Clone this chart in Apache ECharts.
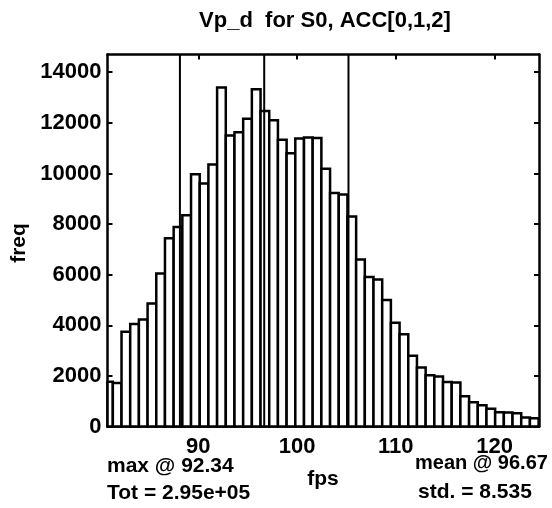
<!DOCTYPE html>
<html>
<head>
<meta charset="utf-8">
<script src="https://cdn.jsdelivr.net/npm/echarts@6/dist/echarts.min.js"></script>
<style>
html,body{margin:0;padding:0;background:#fff;}
#c{width:552px;height:508px;}
</style>
</head>
<body>
<div id="c"></div>
<script>
// ---- data ----
const binCenters = [80.90, 81.78, 82.66, 83.54, 84.42, 85.30, 86.18, 87.06, 87.94, 88.82,
                    89.70, 90.58, 91.46, 92.34, 93.22, 94.10, 94.98, 95.86, 96.74, 97.62,
                    98.50, 99.38, 100.26, 101.14, 102.02, 102.90, 103.78, 104.66, 105.54, 106.42,
                    107.30, 108.18, 109.06, 109.94, 110.82, 111.70, 112.58, 113.46, 114.34, 115.22,
                    116.10, 116.98, 117.86, 118.74, 119.62, 120.50, 121.38, 122.26, 123.14, 124.02];
const binCounts  = [1770, 1720, 3740, 4050, 4230, 4860, 6045, 7440, 7880, 8350,
                    9970, 9600, 10350, 13400, 11500, 11630, 12160, 13330, 12470, 12100,
                    11334, 10800, 11380, 11420, 11400, 10190, 9227, 9170, 8300, 6600,
                    5910, 5810, 5000, 4100, 3650, 2800, 2336, 2030, 1980, 1760,
                    1740, 1200, 960, 840, 700, 560, 550, 520, 360, 330];
const binWidth = 0.88;
const meanVal = 96.67;
const stdVal = 8.535;
const refLines = [88.135, 96.67, 105.205];   // mean - std, mean, mean + std
const xTicks = [90, 100, 110, 120];
const yTicks = [0, 2000, 4000, 6000, 8000, 10000, 12000, 14000];
const xRange = [80.8, 124.5];
const yRange = [0, 14700];
const titleText = 'Vp_d  for S0, ACC[0,1,2]';
const xName = 'fps';
const yName = 'freq';
const noteMax = 'max @ 92.34';
const noteTot = 'Tot = 2.95e+05';
const noteMean = 'mean @ 96.67';
const noteStd = 'std. = 8.535';

// ---- chart ----
const FONT = 'Liberation Sans';
const chart = echarts.init(document.getElementById('c'), null, {renderer: 'canvas'});

const txt = (text, x, y, align, size) => ({
  type: 'text', x: x, y: y, silent: true,
  style: {text: text, fill: '#000', font: 'bold ' + (size || 21) + 'px "' + FONT + '"',
          align: align || 'left', verticalAlign: 'middle'}
});

const axisLineStyle = {show: true, onZero: false, lineStyle: {color: '#000', width: 2.5}};
const tickStyle = (vals) => ({show: true, inside: true, length: 5,
                              lineStyle: {color: '#000', width: 2}, customValues: vals});
const plainNum = v => String(v);

const option = {
  animation: false,
  backgroundColor: '#fff',
  grid: {left: 107.5, right: 13, top: 54.5, bottom: 81.5, outerBoundsMode: 'none'},
  xAxis: [
    {
      type: 'value', position: 'bottom', min: xRange[0], max: xRange[1],
      axisLine: axisLineStyle, splitLine: {show: false},
      axisTick: tickStyle(xTicks),
      axisLabel: {show: true, customValues: xTicks, formatter: plainNum, margin: 9, color: '#000',
                  fontFamily: FONT, fontWeight: 'bold', fontSize: 22}
    },
    {
      type: 'value', position: 'top', min: xRange[0], max: xRange[1],
      axisLine: axisLineStyle, splitLine: {show: false},
      axisTick: tickStyle(xTicks),
      axisLabel: {show: false}
    }
  ],
  yAxis: [
    {
      type: 'value', position: 'left', min: yRange[0], max: yRange[1],
      axisLine: axisLineStyle, splitLine: {show: false},
      axisTick: tickStyle(yTicks),
      axisLabel: {show: true, customValues: yTicks, formatter: plainNum, margin: 6, color: '#000',
                  fontFamily: FONT, fontWeight: 'bold', fontSize: 22}
    },
    {
      type: 'value', position: 'right', min: yRange[0], max: yRange[1],
      axisLine: axisLineStyle, splitLine: {show: false},
      axisTick: tickStyle(yTicks),
      axisLabel: {show: false}
    }
  ],
  series: [
    {
      type: 'custom',
      xAxisIndex: 0, yAxisIndex: 0,
      data: binCenters.map((c, i) => [c, binCounts[i]]),
      renderItem: function (params, api) {
        const c = api.value(0), h = api.value(1);
        const p0 = api.coord([c - binWidth / 2, h]);
        const p1 = api.coord([c + binWidth / 2, 0]);
        const cs = params.coordSys;
        const rect = echarts.graphic.clipRectByRect(
          {x: p0[0], y: p0[1], width: p1[0] - p0[0], height: p1[1] - p0[1]},
          {x: cs.x, y: cs.y, width: cs.width, height: cs.height});
        if (!rect) return null;
        return {type: 'rect', shape: rect, style: {fill: '#fff', stroke: '#000', lineWidth: 2.5}};
      },
      z: 3
    },
    {
      type: 'custom',
      xAxisIndex: 0, yAxisIndex: 0,
      data: refLines.map(v => [v]),
      renderItem: function (params, api) {
        const v = api.value(0);
        const a = api.coord([v, yRange[0]]);
        const b = api.coord([v, yRange[1]]);
        return {type: 'line', shape: {x1: a[0], y1: a[1], x2: b[0], y2: b[1]},
                style: {stroke: '#000', lineWidth: 2}};
      },
      z: 4
    }
  ],
  graphic: [
    txt(titleText, 325, 21, 'center', 22),
    Object.assign(txt(yName, 19, 243, 'center', 21), {rotation: Math.PI / 2}),
    txt(xName, 323, 479, 'center', 21),
    txt(noteMax, 107, 466, 'left', 21),
    txt(noteTot, 107, 493, 'left', 21),
    txt(noteMean, 415, 463, 'left', 20),
    txt(noteStd, 418, 492, 'left', 21)
  ]
};
chart.setOption(option);
</script>
</body>
</html>
